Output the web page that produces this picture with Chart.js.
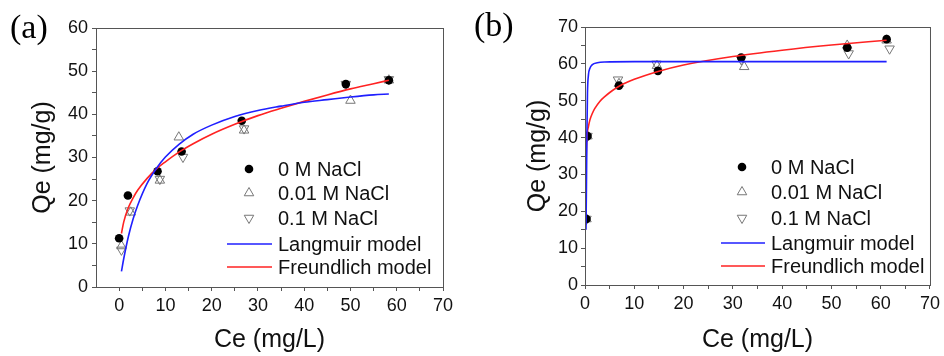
<!DOCTYPE html>
<html>
<head>
<meta charset="utf-8">
<script src="https://cdn.jsdelivr.net/npm/chart.js@4.4.1/dist/chart.umd.min.js"></script>
<style>
    html, body { margin: 0; padding: 0; background: #fff; }
    #wrap { position: relative; width: 944px; height: 356px; overflow: hidden; }
    canvas { position: absolute; top: 0; }
    #cvA { left: 0; }
    #cvB { left: 480px; }
    .tag { position: absolute; font-family: "Liberation Serif", "Times New Roman", serif; font-size: 34px; line-height: 34px; color: #000; }
</style>
</head>
<body>
<div id="wrap">
    <canvas id="cvA" width="480" height="356"></canvas>
    <canvas id="cvB" width="464" height="356"></canvas>
    <div class="tag" style="left:10px; top:10px;">(a)</div>
    <div class="tag" style="left:474px; top:8px;">(b)</div>
</div>
<script>
// series names
const seriesNames = ["0 M NaCl", "0.01 M NaCl", "0.1 M NaCl", "Langmuir model", "Freundlich model"];

// tick positions (labels on multiples of 10)
const xTicks = [0, 5, 10, 15, 20, 25, 30, 35, 40, 45, 50, 55, 60, 65, 70];
const yTicksA = [0, 5, 10, 15, 20, 25, 30, 35, 40, 45, 50, 55, 60];
const yTicksB = [0, 5, 10, 15, 20, 25, 30, 35, 40, 45, 50, 55, 60, 65, 70];

// panel (a) measured points
const aCe0 = [0, 1.9, 8.3, 13.5, 26.5, 49, 58.3];
const aQe0 = [11.3, 21.2, 26.8, 31.4, 38.5, 47, 47.9];
const aCe1 = [0.5, 2.5, 8.8, 12.9, 27, 50, 58.3];
const aQe1 = [9.5, 17.3, 24.7, 34.7, 36.3, 43.2, 47.9];
const aCe2 = [0.5, 2.3, 8.8, 13.8, 27, 49, 58.3];
const aQe2 = [8.6, 17.7, 25, 30.1, 36.7, 47, 48.1];

// panel (a) model curves
const aFitCe = [0.5, 1, 2, 3, 4, 6, 8, 10, 13, 16, 20, 25, 30, 35, 40, 45, 50, 55, 58.3];
const aLangmuir = [3.6, 6.6, 11.7, 15.7, 18.9, 23.9, 27.4, 30.1, 33.1, 35.4, 37.5, 39.5, 40.9, 41.9, 42.8, 43.4, 44, 44.5, 44.7];
const aFreundlich = [12.4, 15.1, 18.4, 20.6, 22.4, 25.1, 27.3, 29, 31.3, 33.2, 35.4, 37.7, 39.7, 41.4, 43, 44.5, 45.9, 47.1, 47.9];

// panel (b) measured points
const bCe0 = [0.3, 0.5, 6.9, 14.8, 31.7, 53.2, 61.2];
const bQe0 = [17.9, 40.4, 54.1, 58.1, 61.7, 64.4, 66.7];
const bCe1 = [0.3, 0.5, 6.9, 14.6, 32.3, 53.2, 61.2];
const bQe1 = [17.9, 40.4, 54.6, 59.5, 59.2, 65, 66.4];
const bCe2 = [0.3, 0.5, 6.7, 14.5, 31.7, 53.5, 61.8];
const bQe2 = [17.9, 40.4, 55.7, 60, 61.2, 62.8, 64.1];

// panel (b) model curves
const bLangCe = [0.2, 0.3, 0.4, 0.5, 0.7, 1, 1.5, 2.5, 4, 10, 30, 61.2];
const bLangmuir = [15, 28, 42, 52, 57, 58.8, 59.8, 60.3, 60.5, 60.6, 60.6, 60.6];
const bFreCe = [0.15, 0.25, 0.4, 0.7, 1, 1.5, 2, 3, 4, 5.5, 7, 10, 15, 20, 30, 40, 50, 61.2];
const bFreundlich = [27, 35, 40.3, 43, 44.8, 46.6, 47.9, 49.8, 51.1, 52.7, 54, 55.8, 58, 59.7, 62, 63.7, 65.1, 66.4];

Chart.defaults.font.family = "'Liberation Sans', Arial, sans-serif";
Chart.defaults.color = "#111";

function pts(xs, ys) {
    return xs.map((x, i) => ({ x: x, y: ys[i] }));
}

function drawMarker(ctx, ds, x, y) {
    ctx.save();
    if (ds.pointStyle === "circle") {
        ctx.fillStyle = ds.pointBackgroundColor;
        ctx.beginPath();
        ctx.arc(x, y, ds.pointRadius, 0, Math.PI * 2);
        ctx.fill();
    } else {
        const r = ds.pointRadius;
        const s = ds.pointRotation === 180 ? -1 : 1;
        ctx.strokeStyle = ds.pointBorderColor;
        ctx.lineWidth = 1;
        ctx.beginPath();
        ctx.moveTo(x, y - s * r);
        ctx.lineTo(x + r * 0.866, y + s * r * 0.5);
        ctx.lineTo(x - r * 0.866, y + s * r * 0.5);
        ctx.closePath();
        ctx.stroke();
    }
    ctx.restore();
}

const frame = {
    id: "frame",
    afterDraw(chart) {
        const { ctx, chartArea: a } = chart;
        ctx.save();
        ctx.strokeStyle = "#555";
        ctx.lineWidth = 1;
        ctx.strokeRect(a.left + 0.5, a.top + 0.5, a.right - a.left, a.bottom - a.top);
        ctx.restore();
    },
};

const boxLegend = {
    id: "boxLegend",
    afterDraw(chart, args, opts) {
        const ctx = chart.ctx;
        ctx.save();
        ctx.font = "20px 'Liberation Sans', Arial, sans-serif";
        ctx.fillStyle = "#111";
        ctx.textBaseline = "middle";
        chart.data.datasets.forEach((ds, i) => {
            const y = opts.rows[i];
            if (ds.showLine) {
                ctx.strokeStyle = ds.borderColor;
                ctx.lineWidth = ds.borderWidth;
                ctx.beginPath();
                ctx.moveTo(opts.lineX1, y);
                ctx.lineTo(opts.lineX2, y);
                ctx.stroke();
            } else {
                drawMarker(ctx, ds, opts.markX, y);
            }
            ctx.fillText(ds.label, opts.textX, y + 1);
        });
        ctx.restore();
    },
};

function axis(ticks, min, max, title, titlePad, size, tickPad) {
    return {
        type: "linear",
        min: min,
        max: max,
        bounds: "data",
        afterBuildTicks: (s) => { s.ticks = ticks.map((v) => ({ value: v })); },
        afterFit: (s) => { if (s.isHorizontal()) s.height = size; else s.width = size; },
        grid: { drawOnChartArea: false, tickLength: 4, color: "#555", tickColor: "#555" },
        border: { color: "#555", width: 1 },
        ticks: {
            autoSkip: false,
            maxRotation: 0,
            padding: tickPad,
            color: "#111",
            font: { size: 18 },
            callback: (v) => (v % 10 === 0 ? v : ""),
        },
        title: { display: true, text: title, color: "#111", font: { size: 25 }, padding: titlePad },
    };
}

function buildDatasets(c0, q0, c1, q1, c2, q2, lc, lq, fc, fq) {
    return [
        { label: seriesNames[0], data: pts(c0, q0), pointStyle: "circle", pointRadius: 4.3, pointBackgroundColor: "#000", pointBorderColor: "#000", pointBorderWidth: 0, showLine: false, order: 1 },
        { label: seriesNames[1], data: pts(c1, q1), pointStyle: "triangle", pointRadius: 5.5, pointBackgroundColor: "rgba(0,0,0,0)", pointBorderColor: "#777", pointBorderWidth: 1, showLine: false, order: 2 },
        { label: seriesNames[2], data: pts(c2, q2), pointStyle: "triangle", pointRotation: 180, pointRadius: 5.5, pointBackgroundColor: "rgba(0,0,0,0)", pointBorderColor: "#777", pointBorderWidth: 1, showLine: false, order: 3 },
        { label: seriesNames[3], data: pts(lc, lq), showLine: true, borderColor: "#1f1fff", borderWidth: 1.6, pointRadius: 0, cubicInterpolationMode: "monotone", order: 0 },
        { label: seriesNames[4], data: pts(fc, fq), showLine: true, borderColor: "#ff2222", borderWidth: 1.6, pointRadius: 0, cubicInterpolationMode: "monotone", order: 0 },
    ];
}

new Chart(document.getElementById("cvA"), {
    type: "scatter",
    data: { datasets: buildDatasets(aCe0, aQe0, aCe1, aQe1, aCe2, aQe2, aFitCe, aLangmuir, aFitCe, aFreundlich) },
    options: {
        responsive: false,
        animation: false,
        layout: { padding: { left: 0, top: 28, right: 37, bottom: 0 } },
        plugins: {
            legend: { display: false },
            tooltip: { enabled: false },
            boxLegend: { markX: 249, lineX1: 227, lineX2: 272, textX: 278, rows: [169, 193, 218, 244, 267] },
        },
        scales: {
            x: axis(xTicks, -5, 70, "Ce (mg/L)", { top: 0, bottom: 1 }, 69, 4),
            y: axis(yTicksA, 0, 60, "Qe (mg/g)", { top: 28, bottom: 0 }, 96, 4),
        },
    },
    plugins: [frame, boxLegend],
});

new Chart(document.getElementById("cvB"), {
    type: "scatter",
    data: { datasets: buildDatasets(bCe0, bQe0, bCe1, bQe1, bCe2, bQe2, bLangCe, bLangmuir, bFreCe, bFreundlich) },
    options: {
        responsive: false,
        animation: false,
        layout: { padding: { left: 0, top: 27, right: 12, bottom: 0 } },
        plugins: {
            legend: { display: false },
            tooltip: { enabled: false },
            boxLegend: { markX: 262, lineX1: 241, lineX2: 285, textX: 291, rows: [167, 192, 218, 243, 266] },
        },
        scales: {
            x: axis(xTicks, 0, 70, "Ce (mg/L)", { top: 0, bottom: 1 }, 71, 4),
            y: axis(yTicksB, 0, 70, "Qe (mg/g)", { top: 43, bottom: 0 }, 105, 3),
        },
    },
    plugins: [frame, boxLegend],
});
</script>
</body>
</html>
